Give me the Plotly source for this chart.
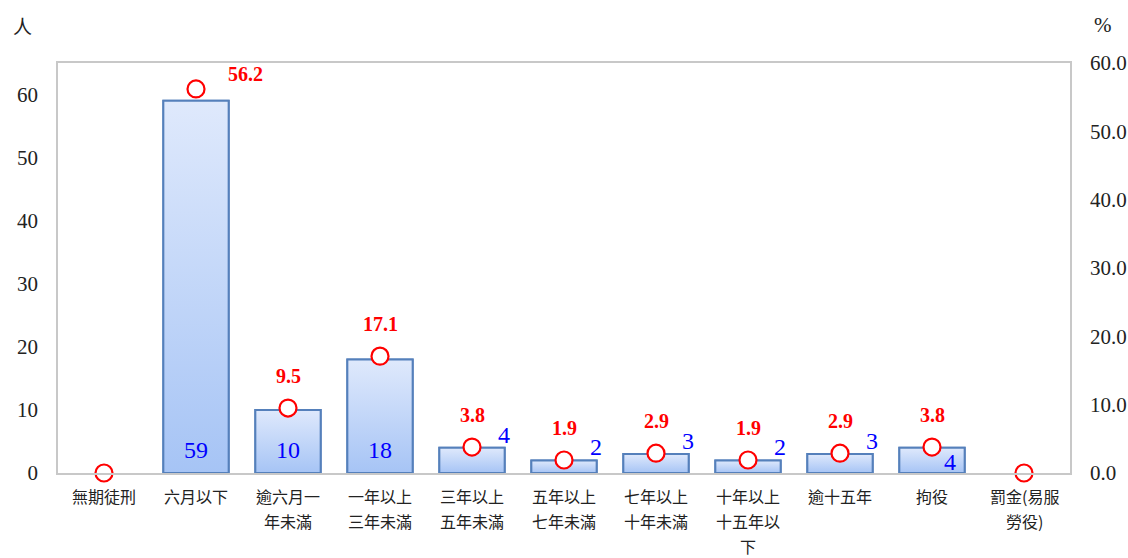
import plotly.graph_objects as go

categories = ["無期徒刑", "六月以下", "逾六月一<br>年未滿", "一年以上<br>三年未滿", "三年以上<br>五年未滿",
              "五年以上<br>七年未滿", "七年以上<br>十年未滿", "十年以上<br>十五年以<br>下", "逾十五年", "拘役",
              "罰金(易服<br>勞役)"]
counts = [0, 59, 10, 18, 4, 2, 3, 2, 3, 4, 0]
percents = [0, 56.2, 9.5, 17.1, 3.8, 1.9, 2.9, 1.9, 2.9, 3.8, 0]
left_ticks = [0, 10, 20, 30, 40, 50, 60]
right_ticks = [0, 10, 20, 30, 40, 50, 60]

x = list(range(len(categories)))
serif = "Liberation Serif, Times New Roman, serif"
cjk = "Noto Sans CJK TC"
bar_w = 0.71

fig = go.Figure()
fig.add_trace(go.Bar(
    x=x, y=counts, width=bar_w,
    marker=dict(color="#c5d9f8",
                line=dict(color="#5580bb", width=[2 if c else 0 for c in counts])),
    hoverinfo="skip", yaxis="y",
))
# gradient fill over each bar (light at top, deeper blue at bottom), with the bar outline
for i, c in enumerate(counts):
    if c == 0:
        continue
    h = bar_w / 2
    fig.add_trace(go.Scatter(
        x=[i - h, i + h, i + h, i - h, i - h], y=[0, 0, c, c, 0],
        mode="lines", line=dict(width=2, color="#5580bb"), fill="toself",
        fillgradient=dict(type="vertical", start=0, stop=c,
                          colorscale=[[0, "#a6c4f5"], [1, "#dfe9fc"]]),
        hoverinfo="skip", yaxis="y", showlegend=False,
    ))
fig.add_trace(go.Scatter(
    x=x, y=percents, mode="markers", yaxis="y2",
    marker=dict(size=17, color="white", line=dict(color="#ff0000", width=2.2)),
    hoverinfo="skip", cliponaxis=False,
))

blue = dict(family=serif, size=24, color="#0000ff")
red = dict(family=serif, size=20, color="#ff0000", weight="bold")
annotations = []
for i, c in enumerate(counts):
    if c == 0:
        continue
    if c >= 10:
        annotations.append(dict(x=i, y=0, yref="y", text=str(c), showarrow=False,
                                yanchor="bottom", yshift=8, font=blue))
    elif categories[i] == "拘役":
        annotations.append(dict(x=i, y=0, yref="y", text=str(c), showarrow=False,
                                yanchor="bottom", xshift=18, yshift=-4, font=blue))
    else:
        annotations.append(dict(x=i, y=c, yref="y", text=str(c), showarrow=False,
                                yanchor="bottom", xshift=32, yshift=-2, font=blue))
for i, p in enumerate(percents):
    if p == 0:
        continue
    if p > 50:
        annotations.append(dict(x=i, y=p, yref="y2", text=f"{p:.1f}", showarrow=False,
                                xshift=49, yshift=15, font=red))
    else:
        annotations.append(dict(x=i, y=p, yref="y2", text=f"{p:.1f}", showarrow=False,
                                yshift=32, font=red))
# category labels, one annotation per line for reference-like line spacing
for i, cat in enumerate(categories):
    for k, line in enumerate(cat.split("<br>")):
        annotations.append(dict(x=i, xref="x", y=0, yref="paper", text=line, showarrow=False,
                                yanchor="middle", yshift=-23 - 25 * k,
                                font=dict(family=cjk, size=16, color="#222")))
annotations.append(dict(x=0, xref="paper", xanchor="center", xshift=-36, y=1, yref="paper",
                        yanchor="middle", yshift=38, text="人", showarrow=False,
                        font=dict(family=cjk, size=19, color="#222")))
annotations.append(dict(x=1, xref="paper", xanchor="center", xshift=33, y=1, yref="paper",
                        yanchor="middle", yshift=38, text="%", showarrow=False,
                        font=dict(family=serif, size=21, color="#222")))

fig.update_layout(
    width=1128, height=558,
    margin=dict(l=58, r=58, t=63, b=85, autoexpand=False),
    paper_bgcolor="white", plot_bgcolor="white",
    showlegend=False,
    xaxis=dict(tickmode="array", tickvals=x, showticklabels=False,
               range=[-0.5, len(categories) - 0.5],
               showline=True, linecolor="#c8c8c8", linewidth=2, mirror=True, ticks="",
               automargin=False, showgrid=False, zeroline=False),
    yaxis=dict(range=[0, 65], tickvals=left_ticks, showgrid=False, zeroline=False,
               showline=True, linecolor="#c8c8c8", linewidth=1.5, ticks="", automargin=False,
               tickfont=dict(family=serif, size=21, color="#222"), ticklabelstandoff=14),
    yaxis2=dict(range=[0, 60], tickvals=right_ticks, tickformat=".1f", overlaying="y", side="right",
                showgrid=False, zeroline=False, showline=True, linecolor="#c8c8c8", linewidth=1.5,
                ticks="", automargin=False,
                tickfont=dict(family=serif, size=21, color="#222"), ticklabelstandoff=14),
    annotations=annotations,
)

fig.write_html("out.html", config={"displayModeBar": False},
               post_script="document.body.style.margin='0';document.body.style.overflow='hidden';")
